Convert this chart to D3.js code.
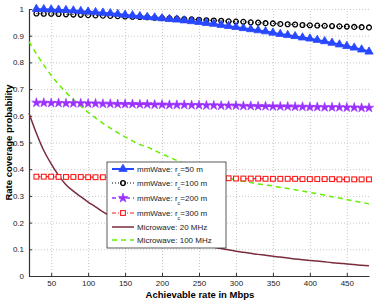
<!DOCTYPE html>
<html>
<head>
<meta charset="utf-8">
<script src="https://d3js.org/d3.v7.min.js"></script>
<style>
  body { margin: 0; background: #fff; }
  svg { display: block; font-family: "Liberation Sans", Arial, sans-serif; }
  .grid line { stroke: #c8c8c8; stroke-dasharray: 1,2; }
  .grid path { stroke-width: 0; }
  .axis text { font-size: 8px; fill: #222; }
  .axis path, .axis line { stroke: #333; }
</style>
</head>
<body>
<svg width="374" height="300"></svg>
<script>
// rates where mmWave markers are placed (Mbps)
const rates = [30,40,50,60,70,80,90,100,110,120,130,140,150,160,170,180,190,200,210,220,230,240,250,260,270,280,290,300,310,320,330,340,350,360,370,380,390,400,410,420,430,440,450,460,470,480];
// microwave curves start at 20
const ratesMw = [20].concat(rates);

const mm50 = [1.000,0.999,0.998,0.997,0.996,0.994,0.992,0.990,0.988,0.986,0.984,0.981,0.978,0.976,0.973,0.970,0.968,0.965,0.962,0.960,0.957,0.954,0.951,0.947,0.944,0.940,0.936,0.932,0.928,0.924,0.920,0.916,0.911,0.906,0.902,0.898,0.893,0.889,0.884,0.879,0.873,0.867,0.861,0.855,0.848,0.840];
const mm100 = [0.983,0.982,0.982,0.981,0.980,0.979,0.978,0.977,0.976,0.975,0.974,0.973,0.972,0.971,0.970,0.969,0.967,0.966,0.965,0.964,0.962,0.961,0.960,0.958,0.957,0.956,0.954,0.953,0.952,0.950,0.949,0.947,0.946,0.944,0.943,0.942,0.940,0.939,0.938,0.937,0.936,0.935,0.934,0.933,0.932,0.931];
const mm200 = [0.649,0.649,0.648,0.648,0.647,0.647,0.647,0.646,0.646,0.645,0.645,0.644,0.644,0.644,0.643,0.643,0.642,0.642,0.641,0.641,0.641,0.640,0.640,0.639,0.639,0.638,0.638,0.638,0.637,0.637,0.636,0.636,0.635,0.635,0.635,0.634,0.634,0.633,0.633,0.632,0.632,0.632,0.631,0.631,0.630,0.630];
const mm300 = [0.372,0.372,0.372,0.371,0.371,0.371,0.371,0.370,0.370,0.370,0.370,0.369,0.369,0.369,0.369,0.368,0.368,0.368,0.368,0.367,0.367,0.367,0.367,0.366,0.366,0.366,0.366,0.365,0.365,0.365,0.365,0.364,0.364,0.364,0.364,0.364,0.363,0.363,0.363,0.363,0.363,0.362,0.362,0.362,0.362,0.362];
const mw20 = [0.610,0.535,0.470,0.420,0.377,0.342,0.318,0.297,0.277,0.259,0.240,0.225,0.212,0.200,0.188,0.178,0.168,0.159,0.151,0.143,0.136,0.130,0.124,0.118,0.113,0.108,0.103,0.098,0.093,0.089,0.085,0.081,0.078,0.074,0.071,0.067,0.064,0.061,0.058,0.056,0.053,0.050,0.048,0.045,0.043,0.040,0.038];
const mw100 = [0.878,0.832,0.790,0.752,0.718,0.688,0.661,0.636,0.613,0.592,0.572,0.554,0.537,0.521,0.506,0.492,0.483,0.470,0.457,0.445,0.433,0.422,0.411,0.401,0.391,0.380,0.370,0.365,0.360,0.355,0.350,0.345,0.341,0.337,0.332,0.328,0.323,0.318,0.313,0.308,0.303,0.297,0.292,0.286,0.281,0.276,0.270];

const xTicks = [50,100,150,200,250,300,350,400,450];
const yTicks = [0,0.1,0.2,0.3,0.4,0.5,0.6,0.7,0.8,0.9,1];

const margin = {top: 9, right: 5, bottom: 24, left: 29};
const width = 374 - margin.left - margin.right,
      height = 300 - margin.top - margin.bottom;

const x = d3.scaleLinear().domain([20, 480]).range([0, width]);
const y = d3.scaleLinear().domain([0, 1]).range([height, 0]);

const svg = d3.select("svg");
const g = svg.append("g").attr("transform", `translate(${margin.left},${margin.top})`);

// grid
g.append("g").attr("class", "grid")
    .attr("transform", `translate(0,${height})`)
    .call(d3.axisBottom(x).tickValues(xTicks).tickSize(-height).tickFormat(""));
g.append("g").attr("class", "grid")
    .call(d3.axisLeft(y).tickValues(yTicks).tickSize(-width).tickFormat(""));

// axes (ticks inside like matlab)
const xa = g.append("g").attr("class", "axis")
    .attr("transform", `translate(0,${height})`)
    .call(d3.axisBottom(x).tickValues(xTicks).tickSizeInner(-3).tickSizeOuter(0).tickPadding(4));
const ya = g.append("g").attr("class", "axis")
    .call(d3.axisLeft(y).tickValues(yTicks).tickSizeInner(-3).tickSizeOuter(0).tickPadding(5)
        .tickFormat(d => d === 0 ? "0" : d === 1 ? "1" : d3.format(".1f")(d)));
xa.select(".domain").attr("stroke-width", 1.2);
ya.select(".domain").attr("stroke-width", 1.2);

// labels
svg.append("text")
    .attr("x", margin.left + x(250) + 1)
    .attr("y", 298)
    .attr("text-anchor", "middle")
    .style("font-size", "9.5px").style("font-weight", "bold")
    .text("Achievable rate in Mbps");
svg.append("text")
    .attr("transform", `translate(12,${margin.top + height / 2}) rotate(-90)`)
    .attr("text-anchor", "middle")
    .style("font-size", "9.5px").style("font-weight", "bold")
    .text("Rate coverage probability");

const series = [
  {name: "mmWave: r", sub: "c", tail: "=50 m", xs: rates, ys: mm50, color: "#2848ff", width: 2, dash: null, marker: "tri"},
  {name: "mmWave: r", sub: "c", tail: "=100 m", xs: rates, ys: mm100, color: "#000000", width: 1, dash: "1,2", marker: "circ"},
  {name: "mmWave: r", sub: "c", tail: "=200 m", xs: rates, ys: mm200, color: "#9b30ff", width: 1.5, dash: "4,3", marker: "star"},
  {name: "mmWave: r", sub: "c", tail: "=300 m", xs: rates, ys: mm300, color: "#ff1a1a", width: 1.2, dash: "4,2,1,2", marker: "sq"},
  {name: "Microwave: 20 MHz", xs: ratesMw, ys: mw20, color: "#7a2c3c", width: 1.5, dash: null, marker: null},
  {name: "Microwave: 100 MHz", xs: ratesMw, ys: mw100, color: "#66ee00", width: 1.5, dash: "5,4", marker: null}
];

const line = d3.line().curve(d3.curveMonotoneX);

function drawMarker(sel, type, color) {
  if (type === "tri") {
    sel.append("path").attr("d", d3.symbol(d3.symbolTriangle, 30)())
      .attr("fill", color).attr("stroke", color).attr("stroke-width", 0.8);
  } else if (type === "circ") {
    sel.append("circle").attr("r", 2.4)
      .attr("fill", "none").attr("stroke", color).attr("stroke-width", 1.3);
  } else if (type === "star") {
    sel.append("path").attr("d", d3.symbol(d3.symbolStar, 28)())
      .attr("fill", color).attr("stroke", color).attr("stroke-width", 0.6);
  } else if (type === "sq") {
    sel.append("rect").attr("x", -2.4).attr("y", -2.4).attr("width", 4.8).attr("height", 4.8)
      .attr("fill", "#fff").attr("stroke", color).attr("stroke-width", 1.1);
  }
}

// draw in reverse so blue ends on top
series.slice().reverse().forEach(s => {
  const pts = s.xs.map((v, i) => [x(v), y(s.ys[i])]);
  g.append("path")
    .attr("d", line(pts))
    .attr("fill", "none")
    .attr("stroke", s.color)
    .attr("stroke-width", s.width)
    .attr("stroke-dasharray", s.dash);
  if (s.marker) {
    pts.forEach(p => {
      drawMarker(g.append("g").attr("transform", `translate(${p[0]},${p[1]})`), s.marker, s.color);
    });
  }
});

// legend
const lg = svg.append("g").attr("transform", "translate(107,162)");
lg.append("rect").attr("width", 119).attr("height", 86)
  .attr("fill", "#fff").attr("stroke", "#333").attr("stroke-width", 0.8);
const rowY = [7, 21, 36, 51, 65, 78];
series.forEach((s, i) => {
  const r = lg.append("g").attr("transform", `translate(0,${rowY[i]})`);
  r.append("line").attr("x1", 5).attr("x2", 27).attr("y1", 0).attr("y2", 0)
    .attr("stroke", s.color).attr("stroke-width", s.width).attr("stroke-dasharray", s.dash);
  if (s.marker) drawMarker(r.append("g").attr("transform", "translate(16,0)"), s.marker, s.color);
  const t = r.append("text").attr("x", 30).attr("y", 3).style("font-size", "8px").style("fill", "#222");
  t.append("tspan").text(s.name);
  if (s.sub) {
    t.append("tspan").attr("dy", 4).style("font-size", "5.5px").text(s.sub);
    t.append("tspan").attr("dy", -4).text(s.tail);
  }
});
</script>
</body>
</html>
